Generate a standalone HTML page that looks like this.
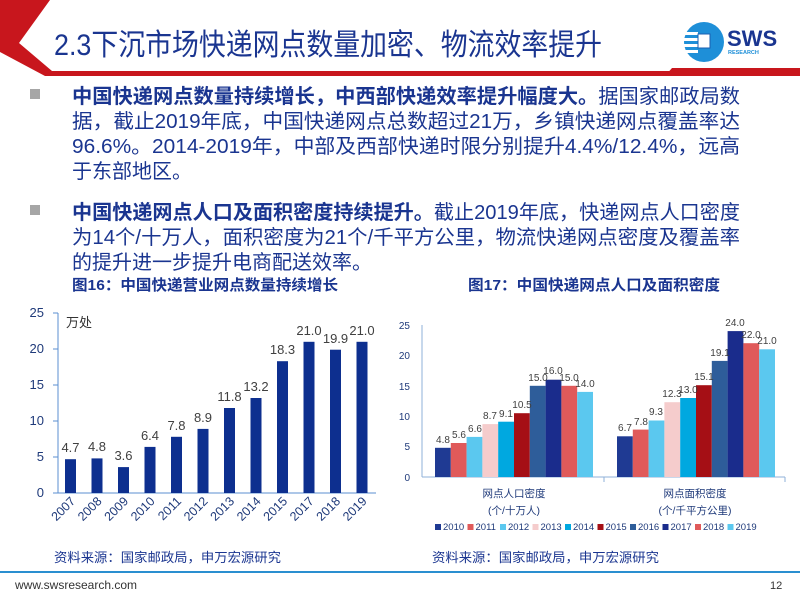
<!DOCTYPE html>
<html><head><meta charset="utf-8"><style>
body{margin:0;width:800px;height:600px;background:#fff;overflow:hidden;font-family:"Liberation Sans","Noto Sans CJK SC",sans-serif}
</style></head><body>
<svg width="800" height="600" xmlns="http://www.w3.org/2000/svg" style="font-family:'Liberation Sans','Noto Sans CJK SC',sans-serif">
<!-- header -->
<polygon points="0,0 50,0 19,43 52,71 800,71 800,76 45,76 0,52" fill="#c8161d"/>
<polygon points="672,68 800,68 800,76 665,76" fill="#c8161d"/>
<text x="54" y="55" font-size="30" fill="#1a3590" textLength="548" lengthAdjust="spacingAndGlyphs">2.3下沉市场快递网点数量加密、物流效率提升</text>
<circle cx="704" cy="42" r="20" fill="#1e8fd8"/>
<rect x="684" y="32" width="14" height="3" fill="#fff"/><rect x="684" y="38" width="14" height="3" fill="#fff"/><rect x="684" y="44" width="14" height="3" fill="#fff"/><rect x="684" y="50" width="14" height="3" fill="#fff"/>
<rect x="698" y="34" width="12" height="14" fill="#fff" stroke="#1a5fb0" stroke-width="1"/>
<text x="727" y="46" font-size="22" font-weight="bold" fill="#1a3590">SWS</text>
<text x="728" y="54" font-size="5.5" font-weight="bold" fill="#1e8fd8">RESEARCH</text>
<!-- bullets -->
<g font-size="20" fill="#1a3590">
<rect x="30" y="89" width="10" height="10" fill="#a6a6a6"/>
<text x="72" y="103" textLength="668" lengthAdjust="spacingAndGlyphs"><tspan font-weight="bold">中国快递网点数量持续增长，中西部快递效率提升幅度大。</tspan>据国家邮政局数</text>
<text x="72" y="128" textLength="668" lengthAdjust="spacingAndGlyphs">据，截止2019年底，中国快递网点总数超过21万，乡镇快递网点覆盖率达</text>
<text x="72" y="153" textLength="668" lengthAdjust="spacingAndGlyphs">96.6%。2014-2019年，中部及西部快递时限分别提升4.4%/12.4%，远高</text>
<text x="72" y="178">于东部地区。</text>
<rect x="30" y="205" width="10" height="10" fill="#a6a6a6"/>
<text x="72" y="219" textLength="668" lengthAdjust="spacingAndGlyphs"><tspan font-weight="bold">中国快递网点人口及面积密度持续提升。</tspan>截止2019年底，快递网点人口密度</text>
<text x="72" y="244" textLength="668" lengthAdjust="spacingAndGlyphs">为14个/十万人，面积密度为21个/千平方公里，物流快递网点密度及覆盖率</text>
<text x="72" y="269">的提升进一步提升电商配送效率。</text>
</g>
<text x="72" y="290" font-size="15" font-weight="bold" fill="#1a3590" textLength="266" lengthAdjust="spacingAndGlyphs">图16：中国快递营业网点数量持续增长</text>
<text x="468" y="290" font-size="15" font-weight="bold" fill="#1a3590" textLength="252" lengthAdjust="spacingAndGlyphs">图17：中国快递网点人口及面积密度</text>
<!-- left chart -->
<g font-size="13" fill="#1f3a7a" text-anchor="end">
<text x="44" y="497">0</text><text x="44" y="461">5</text><text x="44" y="425">10</text><text x="44" y="389">15</text><text x="44" y="353">20</text><text x="44" y="317">25</text>
</g>
<g stroke="#5b8fd0" stroke-width="1">
<line x1="58" y1="313" x2="58" y2="493"/><line x1="58" y1="493" x2="376" y2="493"/>
<line x1="53" y1="313" x2="58" y2="313"/><line x1="53" y1="349" x2="58" y2="349"/><line x1="53" y1="385" x2="58" y2="385"/><line x1="53" y1="421" x2="58" y2="421"/><line x1="53" y1="457" x2="58" y2="457"/><line x1="53" y1="493" x2="58" y2="493"/>
</g>
<text x="66" y="327" font-size="13" fill="#333">万处</text>
<g fill="#0d2f8f">
<rect x="65" y="459.2" width="11" height="33.8"/><rect x="91.5" y="458.4" width="11" height="34.6"/><rect x="118" y="467.1" width="11" height="25.9"/><rect x="144.5" y="446.9" width="11" height="46.1"/><rect x="171" y="436.8" width="11" height="56.2"/><rect x="197.5" y="428.9" width="11" height="64.1"/><rect x="224" y="408" width="11" height="85"/><rect x="250.5" y="398" width="11" height="95"/><rect x="277" y="361.2" width="11" height="131.8"/><rect x="303.5" y="341.8" width="11" height="151.2"/><rect x="330" y="349.7" width="11" height="143.3"/><rect x="356.5" y="341.8" width="11" height="151.2"/>
</g>
<g font-size="13" fill="#404040" text-anchor="middle">
<text x="70.5" y="452">4.7</text><text x="97" y="451">4.8</text><text x="123.5" y="460">3.6</text><text x="150" y="440">6.4</text><text x="176.5" y="430">7.8</text><text x="203" y="422">8.9</text><text x="229.5" y="401">11.8</text><text x="256" y="391">13.2</text><text x="282.5" y="354">18.3</text><text x="309" y="335">21.0</text><text x="335.5" y="343">19.9</text><text x="362" y="335">21.0</text>
</g>
<g font-size="12.5" fill="#1f3a7a" text-anchor="end">
<text transform="translate(76,502) rotate(-45)">2007</text><text transform="translate(102.5,502) rotate(-45)">2008</text><text transform="translate(129,502) rotate(-45)">2009</text><text transform="translate(155.5,502) rotate(-45)">2010</text><text transform="translate(182,502) rotate(-45)">2011</text><text transform="translate(208.5,502) rotate(-45)">2012</text><text transform="translate(235,502) rotate(-45)">2013</text><text transform="translate(261.5,502) rotate(-45)">2014</text><text transform="translate(288,502) rotate(-45)">2015</text><text transform="translate(314.5,502) rotate(-45)">2017</text><text transform="translate(341,502) rotate(-45)">2018</text><text transform="translate(367.5,502) rotate(-45)">2019</text>
</g>
<!-- right chart -->
<g font-size="10" fill="#1f3a7a" text-anchor="end">
<text x="410" y="481">0</text><text x="410" y="450">5</text><text x="410" y="420">10</text><text x="410" y="390">15</text><text x="410" y="359">20</text><text x="410" y="329">25</text>
</g>
<g stroke="#8fb0d8" stroke-width="1">
<line x1="422" y1="325" x2="422" y2="477"/><line x1="422" y1="477" x2="785" y2="477"/><line x1="604" y1="477" x2="604" y2="482"/><line x1="785" y1="477" x2="785" y2="482"/>
</g>
<g>
<rect x="435" y="447.8" width="15.8" height="29.2" fill="#1f3a93"/><rect x="450.8" y="443" width="15.8" height="34" fill="#e05a5a"/><rect x="466.6" y="436.9" width="15.8" height="40.1" fill="#5bc8ef"/><rect x="482.4" y="424.1" width="15.8" height="52.9" fill="#f5cccc"/><rect x="498.2" y="421.7" width="15.8" height="55.3" fill="#00a8e0"/><rect x="514" y="413.2" width="15.8" height="63.8" fill="#a50f15"/><rect x="529.8" y="385.8" width="15.8" height="91.2" fill="#2e5d9a"/><rect x="545.6" y="379.7" width="15.8" height="97.3" fill="#1a2c8c"/><rect x="561.4" y="385.8" width="15.8" height="91.2" fill="#e05a5a"/><rect x="577.2" y="391.9" width="15.8" height="85.1" fill="#5bc8ef"/>
<rect x="617" y="436.3" width="15.8" height="40.7" fill="#1f3a93"/><rect x="632.8" y="429.6" width="15.8" height="47.4" fill="#e05a5a"/><rect x="648.6" y="420.5" width="15.8" height="56.5" fill="#5bc8ef"/><rect x="664.4" y="402.2" width="15.8" height="74.8" fill="#f5cccc"/><rect x="680.2" y="398" width="15.8" height="79" fill="#00a8e0"/><rect x="696" y="385.2" width="15.8" height="91.8" fill="#a50f15"/><rect x="711.8" y="360.9" width="15.8" height="116.1" fill="#2e5d9a"/><rect x="727.6" y="331.1" width="15.8" height="145.9" fill="#1a2c8c"/><rect x="743.4" y="343.2" width="15.8" height="133.8" fill="#e05a5a"/><rect x="759.2" y="349.3" width="15.8" height="127.7" fill="#5bc8ef"/>
</g>
<g font-size="10" fill="#404040" text-anchor="middle">
<text x="443" y="443">4.8</text><text x="459" y="438">5.6</text><text x="475" y="432">6.6</text><text x="490" y="419">8.7</text><text x="506" y="417">9.1</text><text x="522" y="408">10.5</text><text x="538" y="381">15.0</text><text x="553" y="374">16.0</text><text x="569" y="381">15.0</text><text x="585" y="387">14.0</text>
<text x="625" y="431">6.7</text><text x="641" y="425">7.8</text><text x="656" y="415">9.3</text><text x="672" y="397">12.3</text><text x="688" y="393">13.0</text><text x="704" y="380">15.1</text><text x="720" y="356">19.1</text><text x="735" y="326">24.0</text><text x="751" y="338">22.0</text><text x="767" y="344">21.0</text>
</g>
<g font-size="10.5" fill="#1f3a7a" text-anchor="middle">
<text x="514" y="497">网点人口密度</text><text x="514" y="514">(个/十万人)</text>
<text x="695" y="497">网点面积密度</text><text x="695" y="514">(个/千平方公里)</text>
</g>
<g font-size="9.5" fill="#1f3a7a">
<rect x="435" y="524" width="6" height="6" fill="#1f3a93"/><text x="443" y="530">2010</text>
<rect x="467.5" y="524" width="6" height="6" fill="#e05a5a"/><text x="475.5" y="530">2011</text>
<rect x="500" y="524" width="6" height="6" fill="#5bc8ef"/><text x="508" y="530">2012</text>
<rect x="532.5" y="524" width="6" height="6" fill="#f5cccc"/><text x="540.5" y="530">2013</text>
<rect x="565" y="524" width="6" height="6" fill="#00a8e0"/><text x="573" y="530">2014</text>
<rect x="597.5" y="524" width="6" height="6" fill="#a50f15"/><text x="605.5" y="530">2015</text>
<rect x="630" y="524" width="6" height="6" fill="#2e5d9a"/><text x="638" y="530">2016</text>
<rect x="662.5" y="524" width="6" height="6" fill="#1a2c8c"/><text x="670.5" y="530">2017</text>
<rect x="695" y="524" width="6" height="6" fill="#e05a5a"/><text x="703" y="530">2018</text>
<rect x="727.5" y="524" width="6" height="6" fill="#5bc8ef"/><text x="735.5" y="530">2019</text>
</g>
<!-- footer -->
<g font-size="13" fill="#1a3590">
<text x="54" y="562" textLength="227" lengthAdjust="spacingAndGlyphs">资料来源：国家邮政局，申万宏源研究</text>
<text x="432" y="562" textLength="227" lengthAdjust="spacingAndGlyphs">资料来源：国家邮政局，申万宏源研究</text>
</g>
<line x1="0" y1="572" x2="800" y2="572" stroke="#2a8fd0" stroke-width="2"/>
<text x="15" y="589" font-size="12" fill="#333">www.swsresearch.com</text>
<text x="770" y="589" font-size="11" fill="#333">12</text>
</svg>
</body></html>
